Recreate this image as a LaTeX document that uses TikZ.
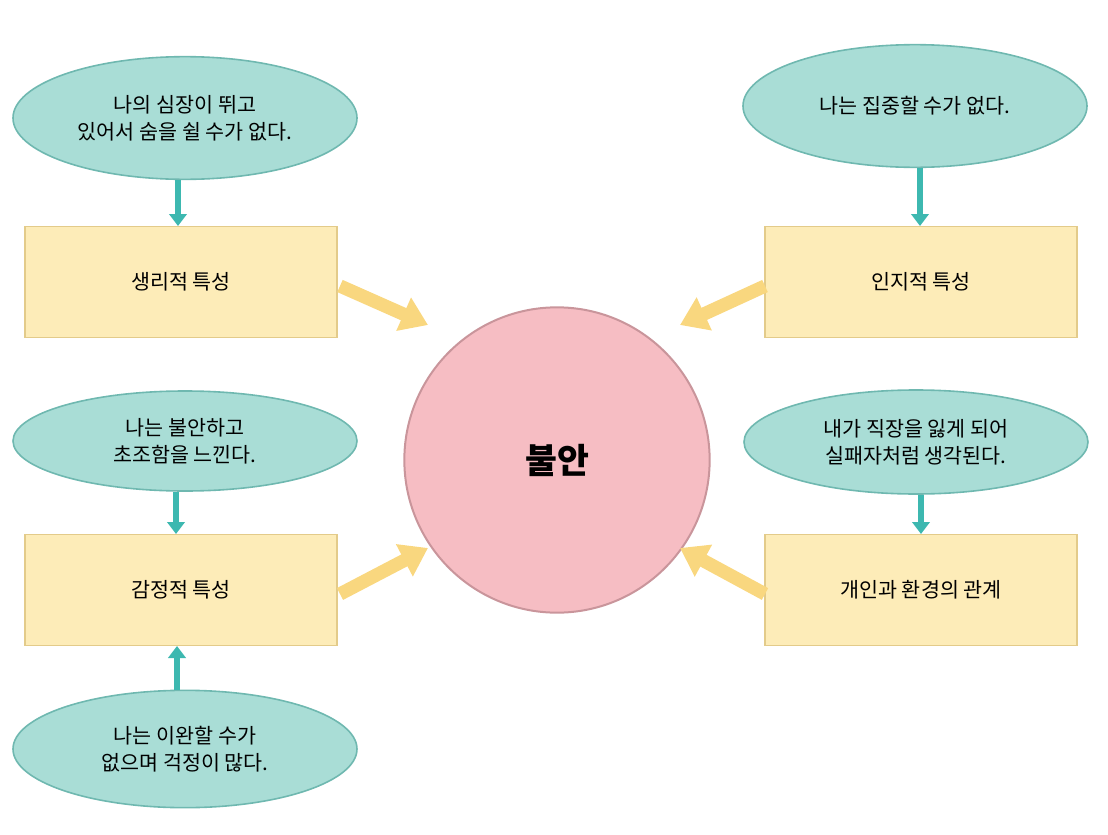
\documentclass[tikz,border=0pt]{standalone}
\usepackage{fontspec}
\setmainfont{Noto Sans CJK KR}
\usetikzlibrary{shapes.geometric,arrows.meta}
\definecolor{tealf}{HTML}{A9DDD6}
\definecolor{teald}{HTML}{6FB8B0}
\definecolor{tarr}{HTML}{3DB8B0}
\definecolor{boxf}{HTML}{FDECB8}
\definecolor{boxd}{HTML}{E3CB8A}
\definecolor{pinkf}{HTML}{F6BDC3}
\definecolor{pinkd}{HTML}{C9959B}
\definecolor{yarr}{HTML}{F9D77F}
\tikzset{
  bubble/.style={ellipse,draw=teald,line width=1.2pt,fill=tealf,minimum width=258pt,minimum height=#1,align=center,font=\fontsize{15.5}{20}\selectfont,inner sep=0pt},
  bubble/.default=92pt,
  trait/.style={rectangle,draw=boxd,line width=1pt,fill=boxf,minimum width=234pt,minimum height=83pt,font=\fontsize{15.5}{20}\selectfont},
  tdown/.style={draw=tarr,line width=4pt,-{Triangle[width=13pt,length=9pt]}},
  yel/.style={draw=yarr,line width=10pt,-{Triangle[width=26pt,length=20pt]}}
}
\begin{document}
\begin{tikzpicture}[x=0.75pt,y=-0.75pt]
\useasboundingbox (0,0) rectangle (1108,835);
\node[bubble] (e1) at (185,118) {나의 심장이 뛰고\\있어서 숨을 쉴 수가 없다.};
\node[bubble] (e2) at (915,106) {나는 집중할 수가 없다.};
\node[bubble=75pt] (e3) at (185,441) {나는 불안하고\\초조함을 느낀다.};
\node[bubble=78pt] (e4) at (916,442) {내가 직장을 잃게 되어\\실패자처럼 생각된다.};
\node[bubble=88pt] (e5) at (185,749) {나는 이완할 수가\\없으며 걱정이 많다.};
\node[trait] (b1) at (181,282) {생리적 특성};
\node[trait] (b2) at (921,282) {인지적 특성};
\node[trait] (b3) at (181,590) {감정적 특성};
\node[trait] (b4) at (921,590) {개인과 환경의 관계};
\node[circle,draw=pinkd,line width=1.5pt,fill=pinkf,minimum size=229pt,font=\fontsize{26}{30}\selectfont\bfseries] (c) at (557,460) {불안};
\draw[tdown] (e1.south -| 178,0) -- (b1.north -| 178,0);
\draw[tdown] (e2.south -| 920,0) -- (b2.north -| 920,0);
\draw[tdown] (e3.south -| 176,0) -- (b3.north -| 176,0);
\draw[tdown] (e4.south -| 921,0) -- (b4.north -| 921,0);
\draw[tdown] (e5.north -| 177,0) -- (b3.south -| 177,0);
\coordinate (y1) at (340,286); \coordinate (y1e) at (428,325);
\coordinate (y2) at (765,286); \coordinate (y2e) at (680,325);
\coordinate (y3) at (340,594); \coordinate (y3e) at (428,548);
\coordinate (y4) at (765,594); \coordinate (y4e) at (680,548);
\draw[yel] (y1) -- (y1e);
\draw[yel] (y2) -- (y2e);
\draw[yel] (y3) -- (y3e);
\draw[yel] (y4) -- (y4e);
\end{tikzpicture}
\end{document}
